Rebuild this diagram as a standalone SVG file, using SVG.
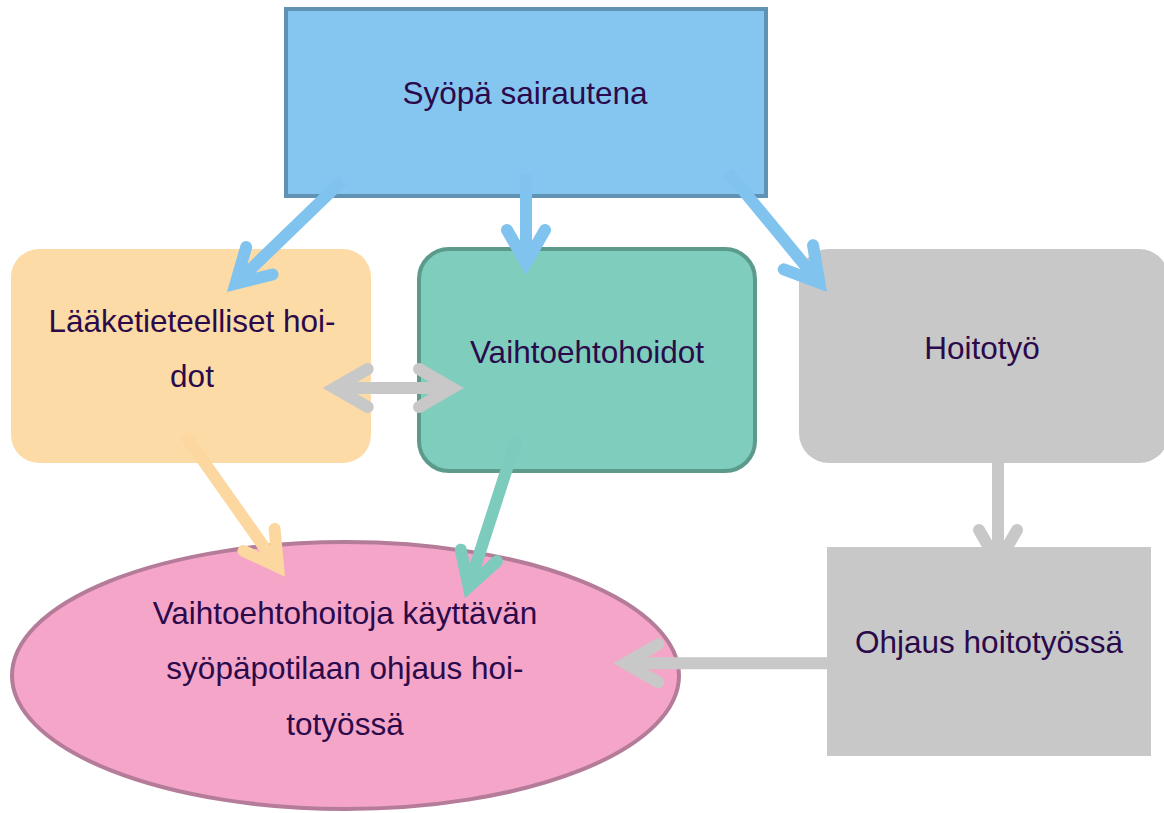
<svg xmlns="http://www.w3.org/2000/svg" width="1164" height="813" viewBox="0 0 1164 813">
<style>
text{font-family:"Liberation Sans",Arial,sans-serif;font-size:31.5px;fill:#2b0a4b;text-anchor:middle}
.c{fill:none;stroke-width:12;stroke-linecap:butt}
.h{fill:none;stroke-width:12;stroke-linecap:round;stroke-linejoin:miter}
.blue{stroke:#80c3ee}
.orange{stroke:#fcd8a0}
.green{stroke:#7ccbbc}
.gray{stroke:#c8c8c8}
</style>
<defs>
<marker id="mBlue" markerUnits="userSpaceOnUse" orient="auto-start-reverse" refX="0" refY="0" markerWidth="1" markerHeight="1" overflow="visible"><path class="h blue" d="M-33,-19 L0,0 L-33,19"/></marker>
<marker id="mOrange" markerUnits="userSpaceOnUse" orient="auto-start-reverse" refX="0" refY="0" markerWidth="1" markerHeight="1" overflow="visible"><path class="h orange" d="M-33,-19 L0,0 L-33,19"/></marker>
<marker id="mGreen" markerUnits="userSpaceOnUse" orient="auto-start-reverse" refX="0" refY="0" markerWidth="1" markerHeight="1" overflow="visible"><path class="h green" d="M-33,-19 L0,0 L-33,19"/></marker>
<marker id="mGray" markerUnits="userSpaceOnUse" orient="auto-start-reverse" refX="0" refY="0" markerWidth="1" markerHeight="1" overflow="visible"><path class="h gray" d="M-33,-19 L0,0 L-33,19"/></marker>
</defs>
<rect width="1164" height="813" fill="#ffffff"/>
<g id="node-syopa">
<rect x="286" y="9" width="480" height="187" fill="#85c6f0" stroke="#5f92b3" stroke-width="4"/>
<text x="525" y="104">Syöpä sairautena</text>
</g>
<g id="node-laaketieteelliset">
<rect x="11" y="249" width="360" height="214" rx="28" fill="#fddba6"/>
<text x="192" y="332">Lääketieteelliset hoi-</text>
<text x="192" y="387">dot</text>
</g>
<g id="node-vaihtoehtohoidot">
<rect x="419" y="249" width="336" height="222" rx="30" fill="#7ecdbd" stroke="#5c9a8c" stroke-width="4"/>
<text x="587" y="363">Vaihtoehtohoidot</text>
</g>
<g id="node-hoitotyo">
<rect x="799" y="249" width="370" height="214" rx="30" fill="#c8c8c8"/>
<text x="982" y="359">Hoitotyö</text>
</g>
<g id="node-ohjaus">
<rect x="827" y="547" width="324" height="209" fill="#c8c8c8"/>
<text x="989" y="653">Ohjaus hoitotyössä</text>
</g>
<g id="node-potilas">
<ellipse cx="345.5" cy="675.5" rx="333.5" ry="133.5" fill="#f4a5c8" stroke="#b47c98" stroke-width="4"/>
<text x="345" y="624">Vaihtoehtohoitoja käyttävän</text>
<text x="345" y="679">syöpäpotilaan ohjaus hoi-</text>
<text x="345" y="735">totyössä</text>
</g>
<g id="connectors">
<line class="c blue" x1="343" y1="180" x2="235.6" y2="283.7" marker-end="url(#mBlue)"/>
<line class="c blue" x1="526" y1="174" x2="526" y2="263" marker-end="url(#mBlue)"/>
<line class="c blue" x1="728" y1="172" x2="819.4" y2="282.7" marker-end="url(#mBlue)"/>
<line class="c gray" x1="334.7" y1="388" x2="452" y2="388" marker-start="url(#mGray)" marker-end="url(#mGray)"/>
<line class="c orange" x1="185" y1="435" x2="278.1" y2="566.9" marker-end="url(#mOrange)"/>
<line class="c green" x1="516.7" y1="438.3" x2="468.7" y2="586.9" marker-end="url(#mGreen)"/>
<line class="c gray" x1="998" y1="458" x2="998" y2="563" marker-end="url(#mGray)"/>
<line class="c gray" x1="840.7" y1="663.3" x2="625.3" y2="663.3" marker-end="url(#mGray)"/>
</g>
</svg>
